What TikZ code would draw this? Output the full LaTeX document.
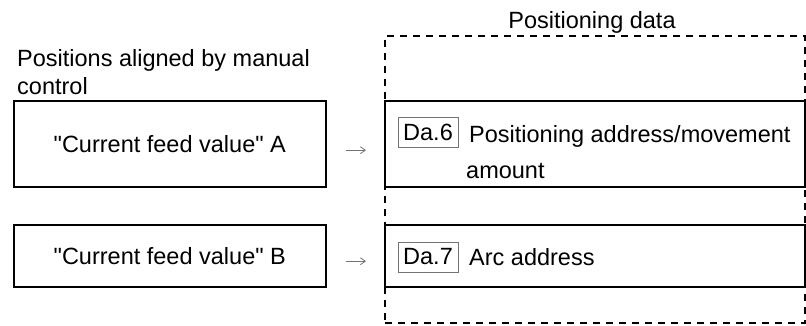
\documentclass[tikz,border=0pt]{standalone}
\usepackage{fontspec}
\setmainfont{Liberation Sans}
\usetikzlibrary{arrows.meta}
\begin{document}
\begin{tikzpicture}[x=1pt,y=1pt,
  txt/.style={font=\fontsize{23.5}{28}\selectfont, inner sep=0pt},
  box/.style={draw, line width=1.6pt, inner sep=0pt, fill=white, anchor=south west,
    font=\fontsize{23.5}{28}\selectfont},
  dabox/.style={draw=black!55, line width=0.8pt, minimum width=60pt, minimum height=30pt,
    inner sep=0pt, font=\fontsize{23.5}{28}\selectfont},
  dashbox/.style={draw, line width=2.4pt, dash pattern=on 7pt off 6pt, anchor=south west, inner sep=0pt},
  feed/.style={-{Straight Barb[length=5pt,width=7pt]}, draw=black!55, line width=0.8pt}]
\useasboundingbox (0,0) rectangle (806,325);
\node[dashbox, minimum width=420pt, minimum height=287pt] (pd) at (384,1) {};
\node[box, minimum width=420pt, minimum height=86pt] (ra) at (384,137) {};
\node[box, minimum width=420pt, minimum height=62pt] (rb) at (384,37) {};
\node[box, minimum width=312pt, minimum height=86pt] (la) at (13,137) {\textquotedbl Current feed value\textquotedbl\ A};
\node[box, minimum width=312pt, minimum height=62pt] (lb) at (13,37) {\textquotedbl Current feed value\textquotedbl\ B};
\draw[feed] ([xshift=19pt,yshift=-6pt]la.east) -- ([xshift=-18pt,yshift=-6pt]ra.west);
\draw[feed] ([xshift=19pt,yshift=-5pt]lb.east) -- ([xshift=-18pt,yshift=-5pt]rb.west);
\node[txt, anchor=base west] (t1) at (17,259) {Positions aligned by manual};
\node[txt, anchor=base west] (t2) at (17,231) {control};
\node[txt, anchor=base] (pdt) at (592,297) {Positioning data};
\node[dabox] (d6) at (428,193) {Da.6};
\node[txt, anchor=base west] (a1) at (469,183) {Positioning address/movement};
\node[txt, anchor=base west] (a2) at (466,147) {amount};
\node[dabox] (d7) at (428,68) {Da.7};
\node[txt, anchor=base west] (a3) at (469,60) {Arc address};
\end{tikzpicture}
\end{document}
